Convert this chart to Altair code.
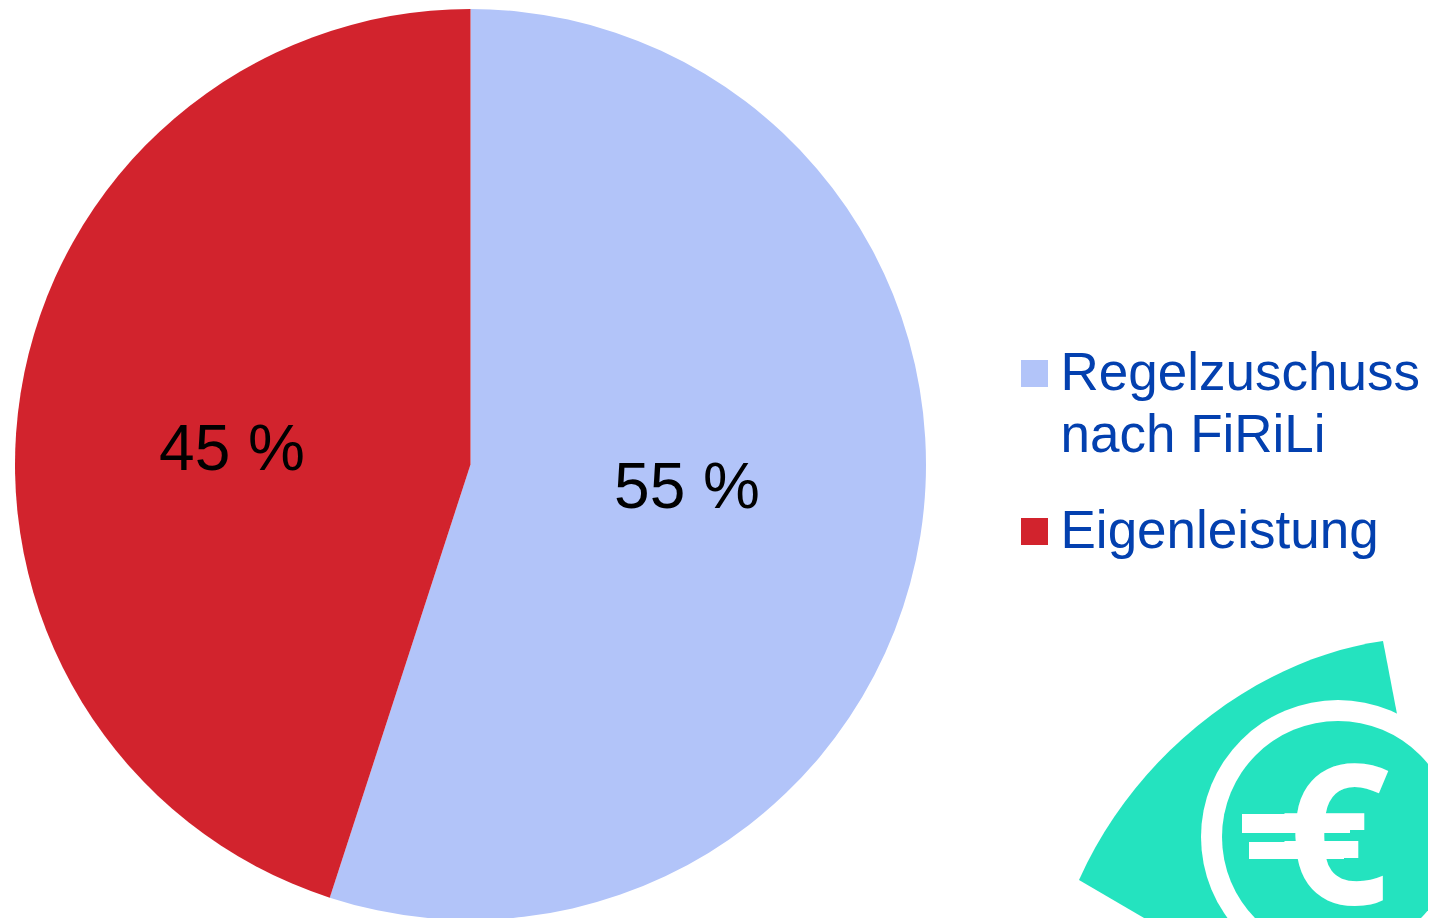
import altair as alt
import pandas as pd

categories = ["Regelzuschuss nach FiRiLi", "Eigenleistung"]
values = [55, 45]
labels = ["55 %", "45 %"]
colors = ["#B2C4F9", "#D2232D"]
TEXT_BLUE = "#0340AF"
TEAL = "#24E3BF"
FONT = "Liberation Sans"

df = pd.DataFrame({"cat": categories, "value": values, "order": [0, 1]})
one = pd.DataFrame({"a": [0]})

pie = alt.Chart(df).mark_arc(radius=455.5).encode(
    theta=alt.Theta("value:Q", stack=True),
    order=alt.Order("order:Q"),
    color=alt.Color("cat:N", scale=alt.Scale(domain=categories, range=colors), legend=None),
    x=alt.value(462.5),
    y=alt.value(456.5),
)


def text(s, x, y, size, color, weight="normal", align="left", font=FONT):
    return alt.Chart(pd.DataFrame({"t": [s]})).mark_text(
        font=font, fontSize=size, color=color, fontWeight=weight, align=align, baseline="alphabetic"
    ).encode(text="t:N", x=alt.value(x), y=alt.value(y))


def square(x, y, color):
    return alt.Chart(one).mark_rect(color=color).encode(
        x=alt.value(x), x2=alt.value(x + 27), y=alt.value(y), y2=alt.value(y + 27)
    )


def disc(cx, cy, r, color):
    return alt.Chart(one).mark_arc(radius=r, theta=0, theta2=6.2832, color=color).encode(
        x=alt.value(cx), y=alt.value(cy)
    )


def bar(x0, x1, y0, y1):
    return alt.Chart(one).mark_rect(color="white").encode(
        x=alt.value(x0), x2=alt.value(x1), y=alt.value(y0), y2=alt.value(y1)
    )


SWOOSH = "M1375 633 C1255 650 1130 740 1071 872 L1208 952 L1330 829 L1389 706 Z"
swoosh = alt.Chart(one).mark_point(
    shape=SWOOSH, size=4, filled=True, fill=TEAL, opacity=1, strokeWidth=0
).encode(x=alt.value(0), y=alt.value(0))

chart = alt.layer(
    pie,
    text(labels[1], 224, 462, 64, "black", align="center"),
    text(labels[0], 679, 500, 64, "black", align="center"),
    square(1013, 352, colors[0]),
    square(1013, 510, colors[1]),
    text("Regelzuschuss", 1052.5, 382, 53, TEXT_BLUE),
    text("nach FiRiLi", 1052.5, 444, 53, TEXT_BLUE),
    text(categories[1], 1052.5, 540, 53, TEXT_BLUE),
    swoosh,
    disc(1330, 829, 137, "white"),
    disc(1330, 829, 116, TEAL),
    text("€", 1326, 896, 195, "white", weight="bold", align="center", font="Open Sans"),
    bar(1234, 1342, 806, 825),
    bar(1241, 1336, 834, 851),
).properties(width=1420, height=910, padding=0, autosize="none", background="white").configure_view(strokeWidth=0)

chart.save("out.html", embed_options={"renderer": "svg", "actions": False})
